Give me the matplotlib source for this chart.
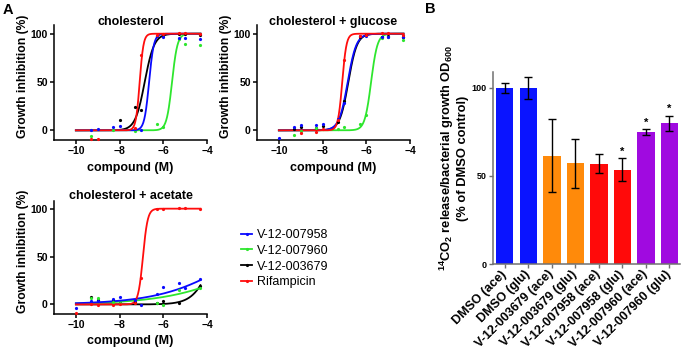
import numpy as np
import matplotlib
matplotlib.use("Agg")
import matplotlib.pyplot as plt
from matplotlib.lines import Line2D

plt.rcParams['font.family'] = ['Liberation Sans', 'DejaVu Sans']
plt.rcParams['mathtext.fontset'] = 'custom'
plt.rcParams['mathtext.rm'] = 'Liberation Sans:bold'
plt.rcParams['mathtext.bf'] = 'Liberation Sans:bold'
plt.rcParams['mathtext.default'] = 'bf'

# ---------------- data ----------------
compounds = ['V-12-007958', 'V-12-007960', 'V-12-003679', 'Rifampicin']
colors = {'V-12-007958': '#0a0aff', 'V-12-007960': '#2ee62e',
          'V-12-003679': '#000000', 'Rifampicin': '#ff0d0d'}
nan = np.nan

# log10 concentration (M)
logx = [-10.0, -9.3, -9.0, -8.3, -8.0, -7.3, -7.0, -6.3, -6.0, -5.3, -5.0, -4.3]

# panel: cholesterol
chol_points = {
    'V-12-007958': [nan, 0.3, 1.7, 3.5, 5.0, 1.0, 0.7, 98.0, 96.5, 95.5, 95.5, 94.7],
    'V-12-007960': [nan, -6.0, nan, 0.7, nan, -0.7, nan, 7.0, 3.5, 94.4, 89.5, 88.0],
    'V-12-003679': [nan, nan, nan, nan, 10.8, 23.8, 21.0, 98.0, 99.0, 100.0, 100.0, 99.0],
    'Rifampicin':  [nan, -9.4, -9.4, nan, nan, 2.0, 77.6, 99.0, 100.0, 101.0, 101.0, 100.0],
}
# fitted curve parameters: (bottom, top, logIC50, hill)
chol_fit = {
    'V-12-007958': (0, 100, -6.65, 4.0),
    'V-12-007960': (0, 100, -5.60, 3.5),
    'V-12-003679': (0, 100, -6.85, 2.0),
    'Rifampicin':  (0, 100, -7.08, 5.0),
}

# panel: cholesterol + glucose
glu_points = {
    'V-12-007958': [-7.6, 3.5, 6.0, 5.2, 7.0, 12.0, 27.8, 98.0, 98.0, 96.5, 97.0, 96.5],
    'V-12-007960': [nan, -5.2, -1.0, 2.8, nan, 1.7, 3.5, 7.0, 15.6, 95.5, 97.0, 93.7],
    'V-12-003679': [nan, 1.0, 3.0, 2.0, 4.0, 9.0, 30.0, 97.0, 99.0, 97.0, 98.0, 97.0],
    'Rifampicin':  [nan, nan, -2.8, -1.4, 1.7, 10.4, 73.0, 98.0, 99.0, 100.7, 100.7, 99.0],
}
glu_fit = {
    'V-12-007958': (0, 100, -6.85, 2.2),
    'V-12-007960': (0, 100, -5.78, 3.0),
    'V-12-003679': (0, 100, -6.82, 2.2),
    'Rifampicin':  (0, 100, -7.10, 4.5),
}

# panel: cholesterol + acetate
ace_points = {
    'V-12-007958': [-4.2, 3.5, 3.5, 5.2, 7.7, 4.5, -0.7, 10.5, 18.5, 22.0, 16.8, 26.6],
    'V-12-007960': [nan, 6.3, 6.3, 2.8, 1.7, nan, nan, 1.0, -0.7, 15.0, nan, 16.8],
    'V-12-003679': [nan, 7.3, 4.5, 4.2, 2.0, 2.8, nan, 1.7, 3.5, 1.7, nan, 19.6],
    'Rifampicin':  [-9.4, 0.0, -1.0, -0.7, 0.7, 2.0, 28.0, 100.0, 100.0, 100.7, 100.7, 99.3],
}
ace_fit = {
    'V-12-007958': (0, 100, -2.43, 0.25),
    'V-12-007960': (0, 100, -1.33, 0.23),
    'V-12-003679': (0, 100, -3.70, 1.0),
    'Rifampicin':  (0, 100, -6.93, 4.0),
}

# panel B
bar_labels = ['DMSO (ace)', 'DMSO (glu)', 'V-12-003679 (ace)', 'V-12-003679 (glu)',
              'V-12-007958 (ace)', 'V-12-007958 (glu)', 'V-12-007960 (ace)', 'V-12-007960 (glu)']
bar_values = [100.0, 100.0, 61.5, 57.2, 57.0, 53.5, 74.7, 79.8]
bar_errors = [3.0, 6.2, 20.8, 14.0, 5.5, 6.4, 1.7, 4.5]
bar_colors = ['#0a14ff', '#0a14ff', '#ff8a0a', '#ff8a0a', '#ff0a0a', '#ff0a0a', '#a00ae0', '#a00ae0']
bar_star = [False, False, False, False, False, True, True, True]

# ---------------- figure ----------------
W, H = 683, 351
fig = plt.figure(figsize=(W / 100, H / 100), dpi=100)


def frac_axes(x0, y0, x1, y1):
    return fig.add_axes([x0 / W, 1 - y1 / H, (x1 - x0) / W, (y1 - y0) / H])


def logistic(x, p):
    b, t, c, h = p
    return b + (t - b) / (1 + 10 ** (h * (c - x)))


def dose_panel(ax, title, points, fits, title_y):
    xs = np.linspace(-10, -4.3, 400)
    order = ['V-12-003679', 'V-12-007960', 'V-12-007958', 'Rifampicin']
    for name in order:
        ax.plot(xs, logistic(xs, fits[name]), color=colors[name], lw=1.3, zorder=2)
        ax.plot(logx, points[name], 'o', color=colors[name], ms=2.3, mew=0, zorder=3,
                clip_on=False)
    ax.set_xlim(-11, -4)
    ax.spines[['top', 'right']].set_visible(False)
    for s in ['left', 'bottom']:
        ax.spines[s].set_linewidth(1.1)
    ax.set_xticks([-10, -8, -6, -4])
    ax.set_yticks([0, 50, 100])
    ax.tick_params(length=3, width=1.1, labelsize=7.5, pad=1.5)
    for lab in ax.get_xticklabels() + ax.get_yticklabels():
        lab.set_fontweight('bold')
    ax.text(0.5, title_y, title, transform=ax.transAxes, ha='center', va='center',
            fontsize=9, fontweight='bold')
    ax.set_ylabel('Growth inhibition (%)', fontsize=8.7, fontweight='bold')
    ax.yaxis.set_label_coords(-0.165, 0.555)
    ax.set_xlabel('compound (M)', fontsize=9, fontweight='bold')


ax1 = frac_axes(54, 25, 207, 140)
ax1.set_ylim(-10, 109)
dose_panel(ax1, 'cholesterol', chol_points, chol_fit, 1.03)
ax1.xaxis.set_label_coords(0.5, -0.19)

ax2 = frac_axes(257, 25, 410, 140)
ax2.set_ylim(-10, 109)
dose_panel(ax2, 'cholesterol + glucose', glu_points, glu_fit, 1.03)
ax2.xaxis.set_label_coords(0.5, -0.19)

ax3 = frac_axes(54, 201, 207, 314)
ax3.set_ylim(-10, 108)
dose_panel(ax3, 'cholesterol + acetate', ace_points, ace_fit, 1.045)
ax3.xaxis.set_label_coords(0.5, -0.19)

handles = [Line2D([], [], color=colors[n], lw=1.3, marker='o', ms=2.3, mew=0) for n in compounds]
fig.legend(handles, compounds, loc='upper left', bbox_to_anchor=(241 / W, 1 - 229 / H),
           frameon=False, fontsize=9, handlelength=0.9, handletextpad=0.35,
           labelspacing=0.3, borderpad=0, borderaxespad=0)

# panel B
axb = frac_axes(493, 72, 680, 264)
pos = np.arange(len(bar_values))
axb.bar(pos, bar_values, width=0.74, color=bar_colors, zorder=2)
axb.errorbar(pos, bar_values, yerr=bar_errors, fmt='none', ecolor='black', elinewidth=1.0,
             capsize=3.0, capthick=1.0, zorder=3)
for p, v, e, s in zip(pos, bar_values, bar_errors, bar_star):
    if s:
        axb.text(p, v + e + 1.0, '*', ha='center', va='bottom', fontsize=8, fontweight='bold')
axb.set_xlim(-0.5, 7.45)
axb.set_ylim(0, 109)
axb.spines[['top', 'right']].set_visible(False)
for s in ['left', 'bottom']:
    axb.spines[s].set_linewidth(1.1)
    axb.spines[s].set_color('#707070')
axb.set_yticks([0, 50, 100])
axb.set_xticks(pos)
axb.set_xticklabels(bar_labels, rotation=45, ha='right', va='center',
                    rotation_mode='anchor', fontsize=9, fontweight='bold')
axb.tick_params(axis='x', length=3, width=1.0, color='#707070', pad=3)
axb.tick_params(axis='y', length=3, width=1.0, color='#707070', labelsize=6.5, pad=1.5)
for lab in axb.get_yticklabels():
    lab.set_fontweight('bold')
axb.set_ylabel('$\\mathbf{^{14}CO_2}$ release/bacterial growth OD$\\mathbf{_{600}}$\n(% of DMSO control)',
               fontsize=9.3, fontweight='bold', linespacing=1.05)
axb.yaxis.set_label_coords(-0.13, 0.55)

fig.text(3 / W, 1 - 10 / H, 'A', fontsize=10.5, fontweight='bold', va='center', ha='left')
fig.text(425 / W, 1 - 9 / H, 'B', fontsize=10.5, fontweight='bold', va='center', ha='left')

fig.savefig('out.png', dpi=100)
